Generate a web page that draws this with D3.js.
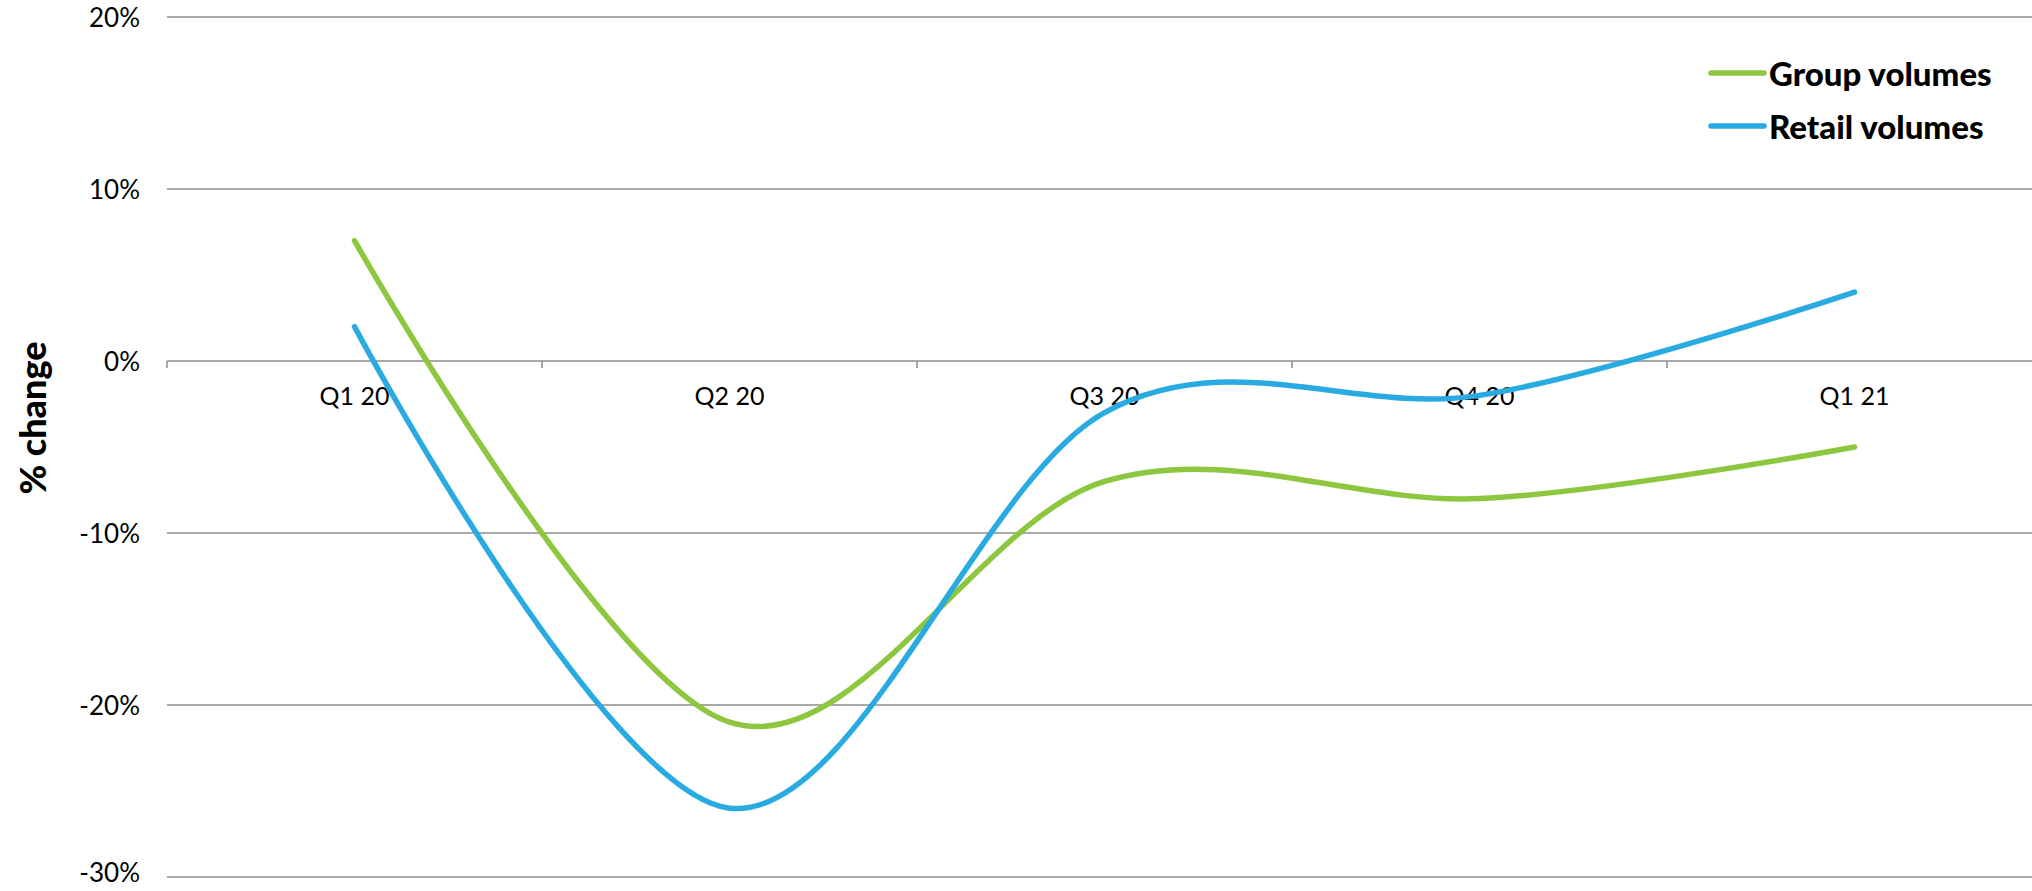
<!DOCTYPE html>
<html>
<head>
<meta charset="utf-8">
<script src="https://cdn.jsdelivr.net/npm/d3@7"></script>
<style>
  html, body { margin: 0; padding: 0; background: #fff; }
  svg { display: block; }
  text { font-family: Lato, "Open Sans", sans-serif; fill: #000; }
</style>
</head>
<body>
<svg id="chart" width="2032" height="891"></svg>
<script>
const categories = ["Q1 20", "Q2 20", "Q3 20", "Q4 20", "Q1 21"];
const groupVolumes = [7, -21, -7.0, -8, -5];
const retailVolumes = [2, -26, -3.0, -2.0, 4];
const yTicks = [20, 10, 0, -10, -20, -30];
const seriesNames = ["Group volumes", "Retail volumes"];
const seriesColors = ["#8DC63F", "#29ABE2"];

(function () {
const svg = d3.select("#chart");
const plotLeft = 167, plotRight = 2042, plotTop = 17, plotBottom = 877;

const x = d3.scaleBand().domain(categories).range([plotLeft, plotRight]).padding(0);
const y = d3.scaleLinear().domain([-30, 20]).range([plotBottom, plotTop]);

// gridlines
svg.append("g").selectAll("line").data(yTicks).join("line")
  .attr("x1", plotLeft).attr("x2", 2032)
  .attr("y1", d => y(d)).attr("y2", d => y(d))
  .attr("stroke", "#8c8c8c").attr("stroke-width", 1.5);

// y tick labels
svg.append("g").selectAll("text").data(yTicks).join("text")
  .attr("x", 140).attr("y", d => Math.min(y(d), 872))
  .attr("text-anchor", "end").attr("dominant-baseline", "central")
  .style("font-size", "26px")
  .text(d => d + "%");

// category tick marks at band boundaries on the 0 line
const bounds = categories.map(c => x(c)).concat([plotRight]);
svg.append("g").selectAll("line").data(bounds).join("line")
  .attr("x1", d => d).attr("x2", d => d)
  .attr("y1", y(0)).attr("y2", y(0) + 7)
  .attr("stroke", "#8c8c8c").attr("stroke-width", 1.5);

// category labels
svg.append("g").selectAll("text").data(categories).join("text")
  .attr("x", d => x(d) + x.bandwidth() / 2)
  .attr("y", y(0) + 34)
  .attr("text-anchor", "middle").attr("dominant-baseline", "central")
  .style("font-size", "25px")
  .text(d => d);

// y axis title
svg.append("text")
  .attr("transform", "translate(32,418) rotate(-90)")
  .attr("text-anchor", "middle").attr("dominant-baseline", "central")
  .style("font-size", "36px").style("font-weight", "900")
  .text("% change");

const line = d3.line()
  .x((d, i) => x(categories[i]) + x.bandwidth() / 2)
  .y(d => y(d))
  .curve(d3.curveCardinal.tension(0));

[groupVolumes, retailVolumes].forEach((vals, i) => {
  svg.append("path")
    .attr("d", line(vals))
    .attr("fill", "none")
    .attr("stroke", seriesColors[i])
    .attr("stroke-width", 5.5)
    .attr("stroke-linecap", "round")
    .attr("stroke-linejoin", "round");
});

// legend
const legend = svg.append("g");
seriesNames.forEach((name, i) => {
  const ly = 73 + i * 53;
  legend.append("line")
    .attr("x1", 1711).attr("x2", 1764).attr("y1", ly).attr("y2", ly)
    .attr("stroke", seriesColors[i]).attr("stroke-width", 5.5)
    .attr("stroke-linecap", "round");
  legend.append("text")
    .attr("x", 1769).attr("y", ly)
    .attr("dominant-baseline", "central")
    .style("font-size", "33px").style("font-weight", "900")
    .text(name);
});
})();
</script>
</body>
</html>
